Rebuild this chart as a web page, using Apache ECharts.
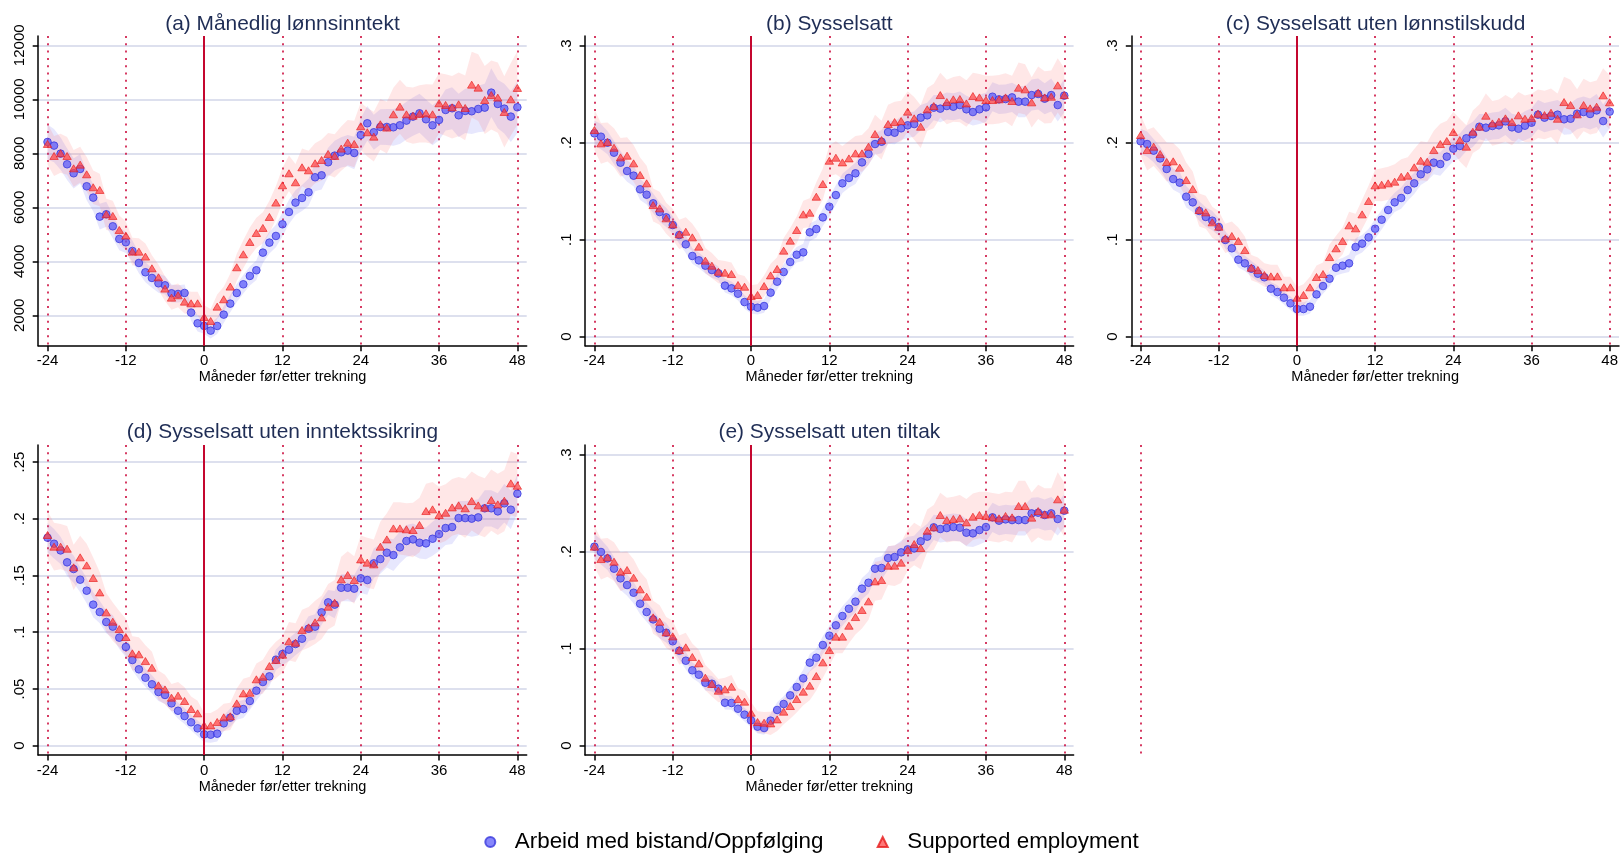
<!DOCTYPE html>
<html><head><meta charset="utf-8">
<script src="https://cdn.jsdelivr.net/npm/echarts@6/dist/echarts.min.js"></script>
<style>html,body{margin:0;padding:0;background:#fff}#c{width:1621px;height:856px}</style>
</head><body><div id="c"></div>
<script>
// ---------- DATA ----------
const months = [-24,-23,-22,-21,-20,-19,-18,-17,-16,-15,-14,-13,-12,-11,-10,-9,-8,-7,-6,-5,-4,-3,-2,-1,
  0,1,2,3,4,5,6,7,8,9,10,11,12,13,14,15,16,17,18,19,20,21,22,23,24,
  25,26,27,28,29,30,31,32,33,34,35,36,37,38,39,40,41,42,43,44,45,46,47,48];
const xTicks = [-24,-12,0,12,24,36,48];
const yTicksIncome = [2000,4000,6000,8000,10000,12000];
const yTicksShare = [0,0.1,0.2,0.3];
const yTicksShareD = [0,0.05,0.1,0.15,0.2,0.25];
const seriesNames = ['Arbeid med bistand/Oppfølging','Supported employment'];
const panelTitles = ['(a) Månedlig lønnsinntekt','(b) Sysselsatt','(c) Sysselsatt uten lønnstilskudd',
  '(d) Sysselsatt uten inntektssikring','(e) Sysselsatt uten tiltak'];
const xAxisTitle = 'Måneder før/etter trekning';

// (a) monthly wage income
const incBlue = [8420,8284,7988,7593,7259,7420,6778,6358,5654,5741,5296,4827,4704,4383,3938,3593,3383,3185,3111,2815,
  2790,2827,2099,1704,1605,1432,1605,2025,2432,2827,3148,3457,3667,4321,4691,4938,5370,5827,6173,6346,
  6556,7111,7185,7667,7914,8037,8099,8012,8679,9111,8778,8975,8975,8963,9037,9210,9358,9481,9259,9037,
  9235,9605,9667,9407,9568,9556,9642,9691,10247,9827,9654,9358,9704];
const incRed = [8346,7901,8000,7901,7444,7580,7222,6741,6642,5741,5679,5160,4951,4358,4358,4173,3741,3407,2988,2654,
  2741,2506,2444,2444,1938,1790,2321,2593,3062,3778,4259,4716,5049,5235,5642,6173,6815,7259,6926,7481,
  7370,7630,7753,7975,7901,8173,8395,8346,9000,8778,8617,9074,8951,9444,9728,9444,9395,9457,9481,9444,
  9852,9790,9704,9815,9679,10543,10432,9975,10160,10062,9531,10000,10420];
// (b) employed
const empBlue = [.2096,.2062,.2000,.1897,.1794,.1708,.1660,.1519,.1464,.1375,.1285,.1230,.1151,.1048,.0952,.0832,.0787,.0732,.0687,.0653,
  .0526,.0498,.0443,.0357,.0309,.0299,.0316,.0454,.0567,.0667,.0770,.0845,.0869,.1076,.1110,.1230,.1340,.1460,.1581,.1636,
  .1684,.1797,.1883,.1986,.2010,.2110,.2103,.2148,.2179,.2192,.2258,.2282,.2361,.2351,.2378,.2371,.2388,.2344,.2316,.2344,
  .2364,.2474,.2447,.2450,.2467,.2423,.2423,.2491,.2502,.2454,.2491,.2388,.2485];
const empRed = [.2131,.1993,.2007,.1948,.1849,.1866,.1787,.1667,.1581,.1357,.1323,.1220,.1158,.1055,.1082,.1024,.0928,.0784,.0732,.0670,
  .0660,.0646,.0533,.0515,.0419,.0430,.0522,.0632,.0698,.0887,.0990,.1100,.1261,.1278,.1443,.1574,.1814,.1845,.1797,.1838,
  .1890,.1890,.1959,.2089,.2027,.2192,.2213,.2223,.2320,.2251,.2165,.2344,.2378,.2491,.2419,.2447,.2450,.2405,.2481,.2467,
  .2440,.2440,.2447,.2467,.2430,.2567,.2550,.2416,.2515,.2467,.2474,.2591,.2491];
// (c) employed without wage subsidy
const noWageBlue = [.2014,.1986,.1918,.1838,.1729,.1625,.1588,.1443,.1385,.1296,.1234,.1196,.1131,.0997,.0911,.0794,.0756,.0701,.0649,.0612,
  .0495,.0460,.0402,.0344,.0285,.0285,.0309,.0436,.0522,.0598,.0711,.0732,.0756,.0924,.0959,.1024,.1113,.1206,.1306,.1385,
  .1430,.1512,.1581,.1674,.1725,.1794,.1780,.1856,.1938,.1966,.2045,.2086,.2165,.2155,.2172,.2179,.2220,.2158,.2144,.2175,
  .2206,.2289,.2258,.2275,.2289,.2241,.2247,.2299,.2316,.2296,.2333,.2223,.2320];
const noWageRed = [.2079,.1924,.1959,.1883,.1801,.1808,.1742,.1615,.1522,.1306,.1282,.1179,.1134,.1014,.1038,.0986,.0893,.0711,.0687,.0636,
  .0622,.0622,.0509,.0509,.0402,.0430,.0509,.0615,.0646,.0821,.0911,.0986,.1148,.1117,.1261,.1399,.1560,.1567,.1581,.1598,
  .1649,.1660,.1746,.1814,.1804,.1924,.1986,.2017,.2110,.2027,.1959,.2113,.2165,.2278,.2199,.2216,.2251,.2213,.2282,.2247,
  .2254,.2299,.2285,.2309,.2247,.2419,.2388,.2292,.2388,.2354,.2371,.2488,.2416];
// (d) employed without income support
const noIncBlue = [.1833,.1780,.1721,.1616,.1557,.1463,.1366,.1243,.1178,.1090,.1049,.0952,.0870,.0755,.0673,.0599,.0541,.0473,.0447,.0373,
  .0308,.0261,.0206,.0153,.0100,.0097,.0106,.0197,.0247,.0308,.0323,.0394,.0485,.0561,.0611,.0758,.0808,.0846,.0896,.0943,
  .1031,.1049,.1175,.1263,.1243,.1392,.1392,.1384,.1475,.1460,.1607,.1645,.1701,.1680,.1748,.1804,.1818,.1789,.1783,.1824,
  .1865,.1918,.1927,.2006,.2006,.2001,.2012,.2092,.2092,.2065,.2136,.2080,.2221];
const noIncRed = [.1857,.1754,.1754,.1736,.1572,.1660,.1589,.1478,.1351,.1175,.1093,.1028,.0958,.0814,.0805,.0746,.0687,.0532,.0496,.0423,
  .0441,.0394,.0323,.0285,.0179,.0179,.0209,.0250,.0259,.0373,.0461,.0467,.0585,.0608,.0702,.0755,.0802,.0920,.0908,.1019,
  .1043,.1087,.1131,.1225,.1260,.1466,.1504,.1460,.1642,.1613,.1598,.1754,.1818,.1915,.1915,.1907,.1901,.1945,.2068,.2083,
  .2033,.2053,.2100,.2118,.2092,.2156,.2118,.2098,.2165,.2127,.2159,.2312,.2291];
// (e) employed without programmes
const noProgBlue = [.2052,.1997,.1931,.1825,.1725,.1656,.1577,.1464,.1378,.1302,.1206,.1165,.1076,.0979,.0876,.0777,.0732,.0649,.0639,.0588,
  .0443,.0440,.0381,.0320,.0261,.0196,.0182,.0258,.0368,.0430,.0519,.0605,.0694,.0856,.0907,.1038,.1134,.1241,.1337,.1412,
  .1485,.1619,.1680,.1825,.1832,.1935,.1945,.1993,.2024,.2034,.2107,.2155,.2251,.2234,.2244,.2254,.2247,.2196,.2189,.2223,
  .2254,.2354,.2320,.2333,.2326,.2326,.2326,.2395,.2402,.2378,.2395,.2337,.2423];
const noProgRed = [.2052,.1924,.1942,.1897,.1794,.1811,.1732,.1612,.1536,.1323,.1278,.1168,.1127,.0986,.1014,.0914,.0849,.0701,.0636,.0567,
  .0581,.0608,.0481,.0454,.0340,.0244,.0237,.0230,.0271,.0351,.0409,.0481,.0557,.0619,.0718,.0859,.0986,.1124,.1124,.1237,
  .1326,.1399,.1488,.1694,.1708,.1856,.1856,.1887,.2017,.2079,.2038,.2216,.2251,.2378,.2326,.2337,.2344,.2302,.2361,.2378,
  .2368,.2354,.2344,.2368,.2354,.2471,.2471,.2351,.2419,.2385,.2385,.2540,.2433];

// confidence band half-widths
const hwIncBlue = [650,620,600,580,560, 540,520,500,480,460,440,420, 400,390,380,370,360,350,340, 330,320,310,300,300,
  290,290,300,310,320, 330,340,350,360,380,400,420, 440,450,460,480,500,520,530, 540,550,560,580,600,620,
  640,650,660,670,680,690, 700,710,720,730,740,750, 760,780,800,820,840,860, 880,900,900,920,940,950];
const hwIncRed = [760,740,720,700,680, 660,640,620,600,580,560,540, 520,510,500,490,480,470,460, 450,440,440,430,430,
  430,440,450,460,480, 500,520,540,560,580,600,620, 640,660,680,700,720,740,760, 780,800,820,840,860,880,
  900,920,940,960,980,1000, 1020,1040,1060,1080,1100,1120, 1140,1160,1180,1200,1220,1240, 1260,1280,1300,1320,1340,1360];
const hwShareBlue = [.013,.013,.012,.012,.012, .011,.011,.011,.010,.010,.010,.010, .009,.009,.009,.008,.008,.008,.008, .007,.007,.007,.007,.007,
  .007,.007,.007,.007,.008, .008,.008,.008,.009,.009,.009,.009, .010,.010,.010,.010,.011,.011,.011, .011,.012,.012,.012,.012,.013,
  .013,.013,.013,.013,.014,.014, .014,.014,.014,.014,.015,.015, .015,.015,.015,.015,.016,.016, .016,.016,.016,.017,.017,.017];
const hwShareRed = [.021,.021,.020,.020,.020, .019,.019,.018,.018,.017,.017,.016, .016,.015,.015,.014,.014,.013,.013, .012,.012,.012,.011,.011,
  .011,.011,.011,.012,.012, .013,.013,.014,.014,.015,.015,.016, .016,.017,.017,.018,.018,.019,.019, .020,.020,.020,.021,.021,.021,
  .022,.022,.022,.023,.023,.023, .023,.024,.024,.024,.024,.025, .025,.025,.025,.026,.026,.026, .026,.027,.027,.027,.028,.028];

// ---------- LAYOUT / STYLE ----------
const FONT = '"Liberation Sans", Arial, Helvetica, sans-serif';
const XMIN = -25.43, XMAX = 49.43;
const boxes = [
  [38.2, 36, 488.5, 309.7], [585.1, 36, 488.5, 309.7], [1131.3, 36, 488.5, 309.7],
  [38.2, 445, 488.5, 310], [585.1, 445, 488.5, 310], [1131.3, 445, 488.5, 310]
];
const titleY = [24, 24, 24, 432, 432];
const shareFmt = v => (v === 0 ? '0' : String(+v.toFixed(2)).replace(/^0\./, '.'));
const panels = [
  {blue: incBlue, red: incRed, hwB: hwIncBlue, hwR: hwIncRed, min: 874, max: 12344, ticks: yTicksIncome, fmt: v => String(v)},
  {blue: empBlue, red: empRed, hwB: hwShareBlue, hwR: hwShareRed, min: -0.0093, max: 0.31, ticks: yTicksShare, fmt: shareFmt},
  {blue: noWageBlue, red: noWageRed, hwB: hwShareBlue, hwR: hwShareRed, min: -0.0093, max: 0.31, ticks: yTicksShare, fmt: shareFmt},
  {blue: noIncBlue, red: noIncRed, hwB: hwShareBlue, hwR: hwShareRed, min: -0.0082, max: 0.265, ticks: yTicksShareD, fmt: shareFmt},
  {blue: noProgBlue, red: noProgRed, hwB: hwShareBlue, hwR: hwShareRed, min: -0.0096, max: 0.31, ticks: yTicksShare, fmt: shareFmt}
];

const BLUE_FILL = 'rgba(88,88,250,0.9)', BLUE_EDGE = '#3838dc';
const RED_FILL = 'rgba(255,62,62,0.88)', RED_EDGE = '#e61c1c';
const BAND_BLUE = 'rgba(110,110,245,0.17)', BAND_RED = 'rgba(255,95,95,0.15)';
const XLINE = '#cc0a3c';

const grid = boxes.map(b => ({left: b[0], top: b[1], width: b[2], height: b[3], containLabel: false}));
const xAxis = [], yAxis = [], series = [], title = [];

function bandSeries(i, vals, hw, fill) {
  return {
    type: 'custom', xAxisIndex: i, yAxisIndex: i, silent: true, z: 1,
    data: months.map((m, k) => [m, vals[k] - hw[k], vals[k] + hw[k]]),
    encode: {x: 0, y: [1, 2]},
    renderItem: (params, api) => {
      if (params.dataIndex !== 0) return null;
      const pts = [];
      for (let k = 0; k < months.length; k++) pts.push(api.coord([months[k], vals[k] + hw[k]]));
      for (let k = months.length - 1; k >= 0; k--) pts.push(api.coord([months[k], vals[k] - hw[k]]));
      return {type: 'polygon', shape: {points: pts}, style: {fill: fill, stroke: null}};
    }
  };
}

panels.forEach((p, i) => {
  const b = boxes[i];
  title.push({
    text: panelTitles[i], left: b[0] + b[2] / 2, top: titleY[i], textAlign: 'center', textVerticalAlign: 'middle', padding: 0,
    textStyle: {fontSize: 20.9, fontWeight: 'normal', color: '#1f2d55', fontFamily: FONT}
  });
  xAxis.push({
    type: 'value', gridIndex: i, min: XMIN, max: XMAX,
    axisLine: {show: true, onZero: false, lineStyle: {color: '#000', width: 1.5}},
    axisTick: {show: true, length: 5.5, customValues: xTicks, lineStyle: {color: '#000', width: 1.5}},
    axisLabel: {customValues: xTicks, margin: 8, fontSize: 15, color: '#000', fontFamily: FONT, formatter: v => String(v)},
    splitLine: {show: true, lineStyle: {color: XLINE, width: 1.6, type: [2, 5.3]}},
    name: xAxisTitle, nameLocation: 'middle', nameGap: 24,
    nameTextStyle: {fontSize: 14.5, color: '#000', fontFamily: FONT}
  });
  yAxis.push({
    type: 'value', gridIndex: i, min: p.min, max: p.max,
    axisLine: {show: true, onZero: false, lineStyle: {color: '#000', width: 1.5}},
    axisTick: {show: true, length: 5.5, customValues: p.ticks, lineStyle: {color: '#000', width: 1.5}},
    axisLabel: {customValues: p.ticks, rotate: 90, margin: 11, fontSize: 15, color: '#000', fontFamily: FONT, formatter: p.fmt},
    splitLine: {show: true, lineStyle: {color: '#dde0ee', width: 1.8}}
  });
  series.push(bandSeries(i, p.blue, p.hwB, BAND_BLUE));
  series.push(bandSeries(i, p.red, p.hwR, BAND_RED));
  series.push({
    type: 'scatter', name: seriesNames[0], xAxisIndex: i, yAxisIndex: i, z: 3,
    symbol: 'circle', symbolSize: 7.6,
    itemStyle: {color: BLUE_FILL, borderColor: BLUE_EDGE, borderWidth: 1},
    data: months.map((m, k) => [m, p.blue[k]]),
    markLine: {silent: true, symbol: ['none', 'none'], label: {show: false}, animation: false,
      lineStyle: {color: '#c4072f', width: 2, type: 'solid'}, data: [{xAxis: 0}]}
  });
  series.push({
    type: 'scatter', name: seriesNames[1], xAxisIndex: i, yAxisIndex: i, z: 4,
    symbol: 'triangle', symbolSize: [8.4, 7],
    itemStyle: {color: RED_FILL, borderColor: RED_EDGE, borderWidth: 0.8},
    data: months.map((m, k) => [m, p.red[k]])
  });
});

// sixth (empty) cell: only the dotted line at -24
xAxis.push({
  type: 'value', gridIndex: 5, min: XMIN, max: XMAX,
  axisLine: {show: false}, axisLabel: {show: false},
  axisTick: {show: false, customValues: [xTicks[0]]},
  splitLine: {show: true, lineStyle: {color: XLINE, width: 1.6, type: [2, 5.3]}}
});
yAxis.push({type: 'value', gridIndex: 5, min: 0, max: 1, show: false});
series.push({type: 'scatter', xAxisIndex: 5, yAxisIndex: 5, data: []});

const legendCommon = {
  orient: 'horizontal', itemWidth: 10, itemHeight: 10, selectedMode: false, padding: 0, top: 831,
  textStyle: {fontSize: 22.4, color: '#000', fontFamily: FONT, padding: [0, 0, 0, 14.5]}
};
const option = {
  animation: false,
  backgroundColor: '#fff',
  title: title,
  grid: grid, xAxis: xAxis, yAxis: yAxis, series: series,
  legend: [
    Object.assign({}, legendCommon, {left: 484.3, data: [{name: seriesNames[0], icon: 'circle'}]}),
    Object.assign({}, legendCommon, {left: 876.7, data: [{name: seriesNames[1], icon: 'triangle'}]})
  ]
};
const chart = echarts.init(document.getElementById('c'));
chart.setOption(option);
</script>
</body></html>
